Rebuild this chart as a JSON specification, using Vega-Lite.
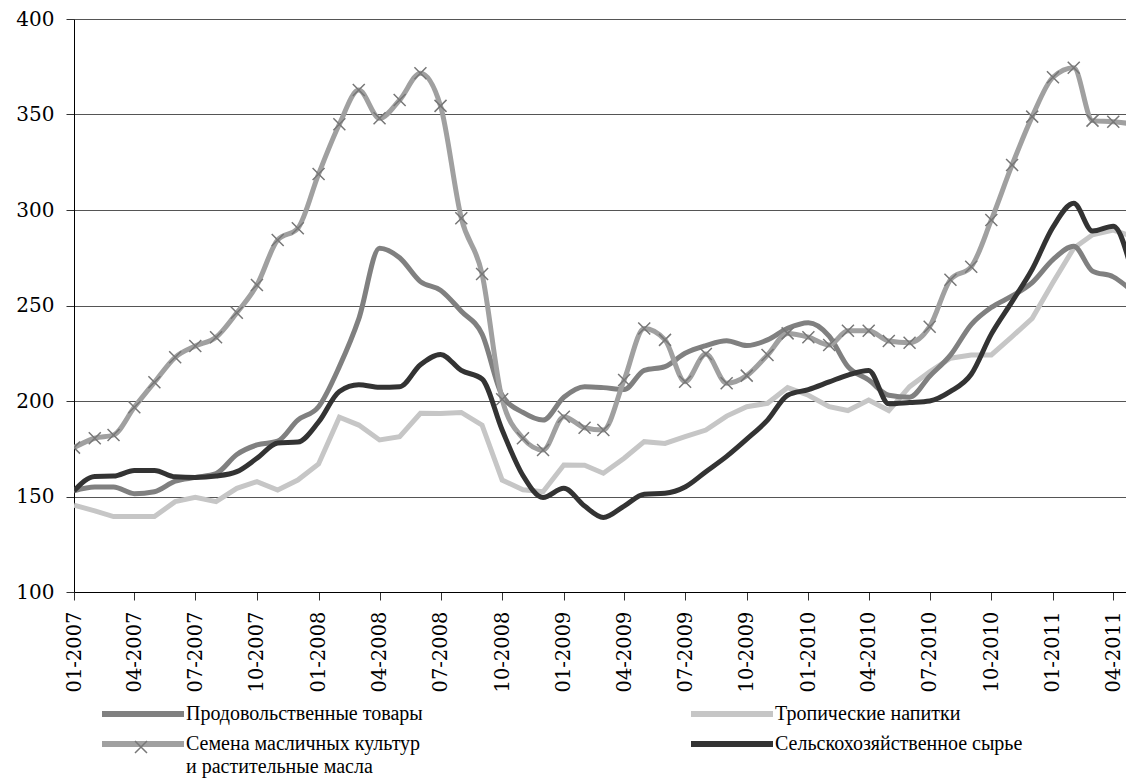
{
  "$schema": "https://vega.github.io/schema/vega-lite/v6.json",
  "width": 1052,
  "height": 573,
  "autosize": {"type": "none"},
  "padding": {"left": 74, "top": 19, "right": 0, "bottom": 190},
  "background": "white",
  "config": {
    "view": {"stroke": null},
    "axis": {"labelFont": "DejaVu Serif", "labelColor": "black", "titleFont": "DejaVu Serif"},
    "legend": {"padding": 0},
    "style": {"guide-label": {"lineHeight": 22.5}}
  },
  "data": {
    "values": [
      {"date": "2007-01-01", "Продовольственные товары": 153, "Тропические напитки": 145.5, "Семена масличных культур и растительные масла": 175.6, "Сельскохозяйственное сырье": 153},
      {"date": "2007-02-01", "Продовольственные товары": 155, "Тропические напитки": 142.5, "Семена масличных культур и растительные масла": 180.5, "Сельскохозяйственное сырье": 160.5},
      {"date": "2007-03-01", "Продовольственные товары": 155, "Тропические напитки": 139.5, "Семена масличных культур и растительные масла": 182.2, "Сельскохозяйственное сырье": 160.7},
      {"date": "2007-04-01", "Продовольственные товары": 151.5, "Тропические напитки": 139.5, "Семена масличных культур и растительные масла": 196.7, "Сельскохозяйственное сырье": 163.6},
      {"date": "2007-05-01", "Продовольственные товары": 152.5, "Тропические напитки": 139.5, "Семена масличных культур и растительные масла": 209.8, "Сельскохозяйственное сырье": 163.6},
      {"date": "2007-06-01", "Продовольственные товары": 158, "Тропические напитки": 147.3, "Семена масличных культур и растительные масла": 222.9, "Сельскохозяйственное сырье": 160.3},
      {"date": "2007-07-01", "Продовольственные товары": 160, "Тропические напитки": 149.6, "Семена масличных культур и растительные масла": 228.8, "Сельскохозяйственное сырье": 160},
      {"date": "2007-08-01", "Продовольственные товары": 162, "Тропические напитки": 147.3, "Семена масличных культур и растительные масла": 233.4, "Сельскохозяйственное сырье": 160.7},
      {"date": "2007-09-01", "Продовольственные товары": 172, "Тропические напитки": 154.3, "Семена масличных культур и растительные масла": 246.2, "Сельскохозяйственное сырье": 163},
      {"date": "2007-10-01", "Продовольственные товары": 177, "Тропические напитки": 157.8, "Семена масличных культур и растительные масла": 260.7, "Сельскохозяйственное сырье": 170},
      {"date": "2007-11-01", "Продовольственные товары": 179, "Тропические напитки": 153.4, "Семена масличных культур и растительные масла": 284.3, "Сельскохозяйственное сырье": 178},
      {"date": "2007-12-01", "Продовольственные товары": 190, "Тропические напитки": 158.6, "Семена масличных культур и растительные масла": 290.4, "Сельскохозяйственное сырье": 178.5},
      {"date": "2008-01-01", "Продовольственные товары": 197, "Тропические напитки": 167, "Семена масличных культур и растительные масла": 318.8, "Сельскохозяйственное сырье": 189},
      {"date": "2008-02-01", "Продовольственные товары": 218, "Тропические напитки": 191.5, "Семена масличных культур и растительные масла": 344.9, "Сельскохозяйственное сырье": 205},
      {"date": "2008-03-01", "Продовольственные товары": 243, "Тропические напитки": 187.4, "Семена масличных культур и растительные масла": 362.8, "Сельскохозяйственное сырье": 208.5},
      {"date": "2008-04-01", "Продовольственные товары": 280, "Тропические напитки": 179.6, "Семена масличных культур и растительные масла": 348, "Сельскохозяйственное сырье": 207.2},
      {"date": "2008-05-01", "Продовольственные товары": 275, "Тропические напитки": 181.3, "Семена масличных культур и растительные масла": 357.6, "Сельскохозяйственное сырье": 207.5},
      {"date": "2008-06-01", "Продовольственные товары": 262.5, "Тропические напитки": 193.6, "Семена масличных культур и растительные масла": 371.6, "Сельскохозяйственное сырье": 219},
      {"date": "2008-07-01", "Продовольственные товары": 258, "Тропические напитки": 193.5, "Семена масличных культур и растительные масла": 354.5, "Сельскохозяйственное сырье": 224.4},
      {"date": "2008-08-01", "Продовольственные товары": 247, "Тропические напитки": 194, "Семена масличных культур и растительные масла": 295.7, "Сельскохозяйственное сырье": 216},
      {"date": "2008-09-01", "Продовольственные товары": 235, "Тропические напитки": 187.4, "Семена масличных культур и растительные масла": 266.5, "Сельскохозяйственное сырье": 211.5},
      {"date": "2008-10-01", "Продовольственные товары": 203, "Тропические напитки": 158.6, "Семена масличных культур и растительные масла": 200.9, "Сельскохозяйственное сырье": 184.8},
      {"date": "2008-11-01", "Продовольственные товары": 194, "Тропические напитки": 153.5, "Семена масличных культур и растительные масла": 180.5, "Сельскохозяйственное сырье": 161},
      {"date": "2008-12-01", "Продовольственные товары": 190, "Тропические напитки": 152.5, "Семена масличных культур и растительные масла": 174.3, "Сельскохозяйственное сырье": 149.5},
      {"date": "2009-01-01", "Продовольственные товары": 202, "Тропические напитки": 166.5, "Семена масличных культур и растительные масла": 191.8, "Сельскохозяйственное сырье": 154.3},
      {"date": "2009-02-01", "Продовольственные товары": 207.5, "Тропические напитки": 166.4, "Семена масличных культур и растительные масла": 186, "Сельскохозяйственное сырье": 145},
      {"date": "2009-03-01", "Продовольственные товары": 207, "Тропические напитки": 162.2, "Семена масличных культур и растительные масла": 184.8, "Сельскохозяйственное сырье": 139},
      {"date": "2009-04-01", "Продовольственные товары": 206, "Тропические напитки": 170, "Семена масличных культур и растительные масла": 211, "Сельскохозяйственное сырье": 145},
      {"date": "2009-05-01", "Продовольственные товары": 216, "Тропические напитки": 178.7, "Семена масличных культур и растительные масла": 238, "Сельскохозяйственное сырье": 151.2},
      {"date": "2009-06-01", "Продовольственные товары": 218, "Тропические напитки": 177.8, "Семена масличных культур и растительные масла": 232, "Сельскохозяйственное сырье": 151.7},
      {"date": "2009-07-01", "Продовольственные товары": 225, "Тропические напитки": 181.3, "Семена масличных культур и растительные масла": 210.1, "Сельскохозяйственное сырье": 155},
      {"date": "2009-08-01", "Продовольственные товары": 229, "Тропические напитки": 184.8, "Семена масличных культур и растительные масла": 224.6, "Сельскохозяйственное сырье": 163},
      {"date": "2009-09-01", "Продовольственные товары": 231.5, "Тропические напитки": 192.1, "Семена масличных культур и растительные масла": 209.3, "Сельскохозяйственное сырье": 171},
      {"date": "2009-10-01", "Продовольственные товары": 229, "Тропические напитки": 197, "Семена масличных культур и растительные масла": 213.3, "Сельскохозяйственное сырье": 180},
      {"date": "2009-11-01", "Продовольственные товары": 232, "Тропические напитки": 198.8, "Семена масличных культур и растительные масла": 224.1, "Сельскохозяйственное сырье": 190},
      {"date": "2009-12-01", "Продовольственные товары": 238, "Тропические напитки": 207, "Семена масличных культур и растительные масла": 235.4, "Сельскохозяйственное сырье": 203},
      {"date": "2010-01-01", "Продовольственные товары": 241, "Тропические напитки": 203, "Семена масличных культур и растительные масла": 233.4, "Сельскохозяйственное сырье": 206},
      {"date": "2010-02-01", "Продовольственные товары": 234, "Тропические напитки": 197, "Семена масличных культур и растительные масла": 229.3, "Сельскохозяйственное сырье": 210},
      {"date": "2010-03-01", "Продовольственные товары": 218, "Тропические напитки": 195, "Семена масличных культур и растительные масла": 236.8, "Сельскохозяйственное сырье": 213.6},
      {"date": "2010-04-01", "Продовольственные товары": 211, "Тропические напитки": 200.5, "Семена масличных культур и растительные масла": 236.8, "Сельскохозяйственное сырье": 216},
      {"date": "2010-05-01", "Продовольственные товары": 203, "Тропические напитки": 195, "Семена масличных культур и растительные масла": 231.4, "Сельскохозяйственное сырье": 198.5},
      {"date": "2010-06-01", "Продовольственные товары": 202, "Тропические напитки": 207.5, "Семена масличных культур и растительные масла": 230.5, "Сельскохозяйственное сырье": 199.2},
      {"date": "2010-07-01", "Продовольственные товары": 213, "Тропические напитки": 215.3, "Семена масличных культур и растительные масла": 238.9, "Сельскохозяйственное сырье": 200},
      {"date": "2010-08-01", "Продовольственные товары": 224, "Тропические напитки": 222.4, "Семена масличных культур и растительные масла": 263.5, "Сельскохозяйственное сырье": 205},
      {"date": "2010-09-01", "Продовольственные товары": 240, "Тропические напитки": 224.1, "Семена масличных культур и растительные масла": 270.3, "Сельскохозяйственное сырье": 214},
      {"date": "2010-10-01", "Продовольственные товары": 249, "Тропические напитки": 224.1, "Семена масличных культур и растительные масла": 294.8, "Сельскохозяйственное сырье": 235},
      {"date": "2010-11-01", "Продовольственные товары": 255, "Тропические напитки": 233.7, "Семена масличных культур и растительные масла": 323.6, "Сельскохозяйственное сырье": 252},
      {"date": "2010-12-01", "Продовольственные товары": 262, "Тропические напитки": 243.3, "Семена масличных культур и растительные масла": 348.9, "Сельскохозяйственное сырье": 269},
      {"date": "2011-01-01", "Продовольственные товары": 274, "Тропические напитки": 262, "Семена масличных культур и растительные масла": 369.5, "Сельскохозяйственное сырье": 291},
      {"date": "2011-02-01", "Продовольственные товары": 281, "Тропические напитки": 280, "Семена масличных культур и растительные масла": 374.5, "Сельскохозяйственное сырье": 303.5},
      {"date": "2011-03-01", "Продовольственные товары": 268, "Тропические напитки": 287, "Семена масличных культур и растительные масла": 346.8, "Сельскохозяйственное сырье": 289},
      {"date": "2011-04-01", "Продовольственные товары": 265, "Тропические напитки": 289.5, "Семена масличных культур и растительные масла": 346.2, "Сельскохозяйственное сырье": 291.5},
      {"date": "2011-05-01", "Продовольственные товары": 257, "Тропические напитки": 286, "Семена масличных культур и растительные масла": 345, "Сельскохозяйственное сырье": 265}
    ]
  },
  "transform": [
    {"fold": ["Продовольственные товары", "Тропические напитки", "Семена масличных культур и растительные масла", "Сельскохозяйственное сырье"], "as": ["series", "value"]}
  ],
  "encoding": {
    "x": {
      "field": "date", "type": "temporal",
      "scale": {"type": "utc", "domain": ["2007-01-01", "2011-04-20"]},
      "axis": {
        "title": null, "format": "%m-%Y", "tickCount": {"interval": "month", "step": 3},
        "labelAngle": -90, "labelFontSize": 19.5, "labelPadding": 11, "tickSize": 8,
        "tickColor": "#333", "domainColor": "black", "grid": false, "labelOverlap": false, "labelFlush": false
      }
    },
    "y": {
      "field": "value", "type": "quantitative",
      "scale": {"domain": [100, 400], "nice": false, "zero": false},
      "axis": {
        "title": null, "values": [100, 150, 200, 250, 300, 350, 400], "labelFontSize": 20,
        "labelPadding": 12, "tickSize": 8, "tickColor": "#333", "domainColor": "black",
        "grid": true, "gridColor": "#555", "gridWidth": 1
      }
    }
  },
  "layer": [
    {
      "transform": [{"filter": "datum.series === 'Тропические напитки'"}],
      "mark": {"type": "line", "strokeWidth": 5, "clip": true, "interpolate": "linear"},
      "encoding": {
        "color": {
          "field": "series", "type": "nominal",
          "scale": {
            "domain": ["Продовольственные товары", "Семена масличных культур и растительные масла", "Тропические напитки", "Сельскохозяйственное сырье"],
            "range": ["#808080", "#a0a0a0", "#c6c6c6", "#333333"]
          },
          "legend": {
            "orient": "none", "legendX": 25, "legendY": 685, "columns": 2, "columnPadding": 265, "rowPadding": 10,
            "clipHeight": 20, "title": null, "symbolType": "stroke", "symbolSize": 6724, "symbolStrokeWidth": 6,
            "symbolOffset": 0, "labelOffset": -1, "labelFont": "Liberation Serif", "labelFontSize": 20, "labelLimit": 0,
            "labelColor": "black",
            "labelExpr": "datum.label === 'Семена масличных культур и растительные масла' ? ['Семена масличных культур', 'и растительные масла'] : datum.label === 'Сельскохозяйственное сырье' ? [datum.label, ''] : datum.label"
          }
        }
      }
    },
    {
      "transform": [{"filter": "datum.series !== 'Тропические напитки'"}],
      "mark": {"type": "line", "strokeWidth": 5, "clip": true, "interpolate": "monotone"},
      "encoding": {"color": {"field": "series", "type": "nominal"}}
    },
    {
      "transform": [{"filter": "datum.series === 'Семена масличных культур и растительные масла'"}],
      "mark": {"type": "point", "filled": false, "size": 144, "stroke": "#777", "strokeWidth": 1.5, "opacity": 1, "clip": true},
      "encoding": {
        "shape": {
          "field": "series", "type": "nominal",
          "scale": {"range": ["M-1,-1L1,1M-1,1L1,-1"]},
          "legend": {
            "orient": "none", "legendX": 60, "legendY": 721, "title": null, "labelExpr": "''",
            "symbolSize": 144, "symbolStrokeColor": "#777", "symbolStrokeWidth": 1.5, "symbolFillColor": "transparent"
          }
        }
      }
    }
  ]
}
